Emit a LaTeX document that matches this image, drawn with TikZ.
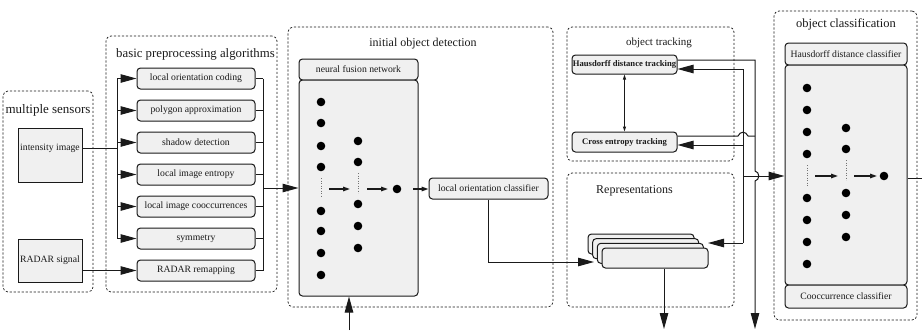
\documentclass[tikz,border=0pt]{standalone}
\usepackage{fontspec}
\setmainfont{Liberation Serif}
\usetikzlibrary{arrows.meta}
\definecolor{boxgray}{HTML}{F0F0F0}
\definecolor{ink}{HTML}{1A1A1A}
\begin{document}
\begin{tikzpicture}[x=1pt,y=-1pt,
  frame/.style={draw=ink, dash pattern=on 2.2pt off 1.8pt, line width=0.7pt, rounded corners=5pt, inner sep=0pt},
  title/.style={font=\fontsize{12}{14}\selectfont, text=ink, inner sep=0pt},
  proc/.style={draw=ink, line width=1pt, fill=boxgray, rounded corners=3.5pt, inner sep=0pt,
    font=\fontsize{9.7}{11}\selectfont, text=ink},
  sensor/.style={proc, rounded corners=0pt},
  boldtxt/.style={font=\fontsize{8.6}{10}\selectfont\bfseries},
  conn/.style={draw=ink, line width=1pt},
  big/.style={conn, -{Triangle[length=16pt,width=8.5pt]}},
  tiny/.style={conn, line width=1.4pt, -{Triangle[length=7pt,width=4.5pt]}},
  neuron/.style={circle, fill=black, inner sep=0pt, minimum size=8.6pt},
  gap/.style={draw=black!55, dotted, line width=0.5pt}
]
\useasboundingbox (0,0) rectangle (922,330);

% ---------- dashed group frames ----------
\node[frame, minimum width=90pt,  minimum height=201pt] (sens)  at (48,191.5) {};
\node[frame, minimum width=171pt, minimum height=256pt] (basic) at (191.5,164) {};
\node[frame, minimum width=265pt, minimum height=280pt] (init)  at (420.5,167) {};
\node[frame, minimum width=167pt, minimum height=134pt] (track) at (650.5,94) {};
\node[frame, minimum width=167pt, minimum height=134pt] (repr)  at (650.5,240) {};
\node[frame, minimum width=143pt, minimum height=309pt] (cls)   at (845.5,165.5) {};

% ---------- group titles ----------
\node[title, font=\fontsize{13}{15}\selectfont] (senst) at (48,110) {multiple sensors};
\node[title, font=\fontsize{12.8}{15}\selectfont] (basict) at (195.5,54) {basic preprocessing algorithms};
\node[title] (initt) at (423,44) {initial object detection};
\node[title, font=\fontsize{11}{13}\selectfont] (trackt) at (659,43) {object tracking};
\node[title] (reprt) at (634.5,191) {Representations};
\node[title, font=\fontsize{12.5}{14}\selectfont] (clst) at (846,24) {object classification};

% ---------- sensors ----------
\node[sensor, minimum width=64pt, minimum height=54pt] (int) at (50,155) {};
\node[inner sep=0pt, font=\fontsize{9.7}{11}\selectfont, text=ink] (intt) at (50,148) {intensity image};
\node[sensor, minimum width=64pt, minimum height=43pt] (rad) at (50,260.5) {RADAR signal};

% ---------- preprocessing algorithms ----------
\foreach \y/\txt [count=\i] in {78.5/local orientation coding, 110.5/polygon approximation,
    142.5/shadow detection, 174.5/local image entropy, 206.5/local image cooccurrences,
    238.5/symmetry, 270.5/RADAR remapping}
  \node[proc, minimum width=118pt, minimum height=21pt] (p\i) at (196,\y) {\txt};

% ---------- neural fusion network ----------
\node[proc, minimum width=119pt, minimum height=21pt] (nnh) at (358.5,69.5) {neural fusion network};
\node[proc, minimum width=119pt, minimum height=216pt] (nn) at (358.5,188) {};
\foreach \y [count=\i] in {102,123,146,167,211,231,253,275}
  \node[neuron] (na\i) at (321,\y) {};
\foreach \y [count=\i] in {141,162,204,226,248}
  \node[neuron] (nb\i) at (358,\y) {};
\node[neuron] (nout) at (397,189) {};
\node[proc, minimum width=119pt, minimum height=21pt] (loc) at (488.5,188.5) {local orientation classifier};

% ---------- object tracking ----------
\node[proc, boldtxt, minimum width=105pt, minimum height=19pt] (thd) at (624.5,64.5) {Hausdorff distance tracking};
\node[proc, boldtxt, minimum width=105pt, minimum height=20pt] (tce) at (624.5,142) {Cross entropy tracking};

% ---------- stacked representations ----------
\node[proc, minimum width=106pt, minimum height=20pt] (s1) at (641,244) {};
\node[proc, minimum width=106pt, minimum height=20pt] (s2) at (645.67,248.67) {};
\node[proc, minimum width=106pt, minimum height=20pt] (s3) at (650.33,253.33) {};
\node[proc, minimum width=106pt, minimum height=20pt] (s4) at (655,258) {};

% ---------- object classification ----------
\node[proc, minimum width=122pt, minimum height=22pt] (chd) at (846,54) {Hausdorff distance classifier};
\node[proc, minimum width=122pt, minimum height=220pt] (cnn) at (846,175) {};
\node[proc, minimum width=122pt, minimum height=23pt] (cco) at (846,296.5) {Cooccurrence classifier};
\foreach \y [count=\i] in {88,110,132,154,198,220,242,264}
  \node[neuron] (ca\i) at (807,\y) {};
\foreach \y [count=\i] in {128,149,193,215,237}
  \node[neuron] (cb\i) at (846,\y) {};
\node[neuron] (cout) at (884,176) {};

% ---------- dotted gaps inside the networks ----------
\draw[gap] (321,178) -- (321,197);
\draw[gap] (358,173) -- (358,193);
\draw[gap] (807,165) -- (807,187);
\draw[gap] (846,160) -- (846,180);

% ---------- sensor fan-out into preprocessing ----------
\coordinate (lbus) at (117,0);
\draw[conn] (lbus |- p1) -- (lbus |- p6);
\draw[conn] (int.east |- intt) -- (lbus |- intt);
\foreach \i in {1,...,6}
  \draw[big] (lbus |- p\i) -- (p\i.west);
\draw[big] (rad.east |- p7.west) -- (p7.west);

% ---------- preprocessing collected into the fusion network ----------
\coordinate (rbus) at (263,0);
\foreach \i in {1,...,7}
  \draw[conn] (p\i.east) -- (rbus |- p\i);
\draw[conn] (rbus |- p1) -- (rbus |- p7);
\draw[big] (rbus |- nn.west) -- (nn.west);

% ---------- layer arrows in the fusion network ----------
\coordinate (ga) at (321,189);
\coordinate (gb) at (358,189);
\draw[tiny] ([xshift=8pt]ga) -- ([xshift=-8pt]gb);
\draw[tiny] ([xshift=9pt]gb) -- ([xshift=-9pt]nout.center);
\draw[tiny] ([xshift=16pt]nout.center) -- (loc.west |- nout);

% external input from below
\coordinate (nnIn) at (349,330);
\draw[big] (nnIn) -- (nn.south -| nnIn);

% classifier result into the representations
\coordinate (rin) at (594,262);
\draw[big] (loc.south) |- (rin);

% ---------- tracking links ----------
\draw[conn, {Triangle[length=5pt,width=3pt]}-{Triangle[length=5pt,width=3pt]}] (thd.south) -- (tce.north);

\coordinate (aTop) at (743,69);
\coordinate (aBot) at (743,243);
\coordinate (sIn) at (708,243);
\draw[conn] (aTop) -- (aBot);
\draw[big] (aTop) -- ([yshift=-4.5pt]thd.east);
\draw[big] (aTop |- 0,145) -- ([yshift=-3pt]tce.east);
\draw[big] (aBot) -- (sIn);

% tracking outputs down the right-hand line (with a hop)
\coordinate (bEnd) at (755,329);
\draw[big] ([yshift=4.5pt]thd.east) -| (755,171)
  .. controls (760,172) and (760,180) .. (755,181) -- (bEnd);
\draw[conn] ([yshift=6pt]tce.east) -- (738,136)
  .. controls (740,131) and (746,131) .. (748,136) -- (755,136);

% into the classification network
\draw[big] (aTop |- 0,176) -- (cnn.west |- 0,176);

% layer arrows in the classification network
\coordinate (ha) at (807,176);
\coordinate (hb) at (846,176);
\draw[tiny] ([xshift=8pt]ha) -- ([xshift=-8pt]hb);
\draw[tiny] ([xshift=8pt]hb) -- ([xshift=-7pt]cout.center);

% classification output leaving on the right
\coordinate (clsOut) at (922,178);
\draw[conn] (cnn.east |- clsOut) -- (clsOut);

% representations output downwards
\coordinate (rOut) at (664,329);
\draw[big] (s4.south -| rOut) -- (rOut);
\end{tikzpicture}
\end{document}
